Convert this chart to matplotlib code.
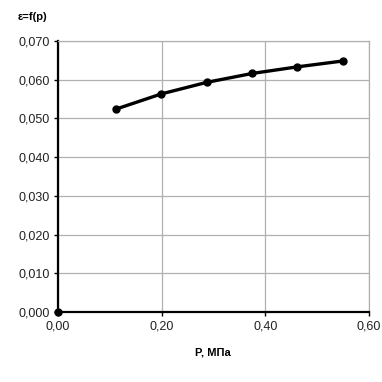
import matplotlib
matplotlib.use('Agg')
import matplotlib.pyplot as plt
from matplotlib.ticker import FuncFormatter

plt.rcParams['font.family'] = ['Liberation Sans', 'DejaVu Sans']

# data
p = [0.112, 0.199, 0.287, 0.375, 0.462, 0.549]
eps = [0.0524, 0.0563, 0.0593, 0.0616, 0.0633, 0.0648]
p0 = [0.0]
eps0 = [0.0]

fig = plt.figure(figsize=(3.82, 3.82), dpi=100)
ax = fig.add_axes([0.152, 0.183, 0.814, 0.710])

ax.plot(p, eps, color='black', lw=2.4, marker='o', ms=5, zorder=3)
ax.plot(p0, eps0, color='black', ls='none', marker='o', ms=5, zorder=4, clip_on=False)

ax.set_xlim(0, 0.6)
ax.set_ylim(0, 0.07)
ax.set_xticks([0, 0.2, 0.4, 0.6])
ax.set_yticks([i * 0.01 for i in range(8)])
ax.xaxis.set_major_formatter(FuncFormatter(lambda v, pos: ('%.2f' % v).replace('.', ',')))
ax.yaxis.set_major_formatter(FuncFormatter(lambda v, pos: ('%.3f' % v).replace('.', ',')))
ax.tick_params(labelsize=9, length=3, width=1, color='black', labelcolor='#222222', pad=3)

ax.grid(True, color='#b0b0b0', lw=0.9)
ax.set_axisbelow(True)
ax.spines['left'].set_linewidth(1.6)
ax.spines['bottom'].set_linewidth(1.6)
ax.spines['top'].set_color('#b0b0b0')
ax.spines['right'].set_color('#b0b0b0')
ax.spines['top'].set_linewidth(0.9)
ax.spines['right'].set_linewidth(0.9)

fig.text(0.045, 0.955, 'ε=f(p)', fontsize=8, fontweight='bold', va='center', ha='left')
fig.text(0.557, 0.078, 'P, МПа', fontsize=8, fontweight='bold', va='center', ha='center')

plt.savefig('out.png', dpi=100)
